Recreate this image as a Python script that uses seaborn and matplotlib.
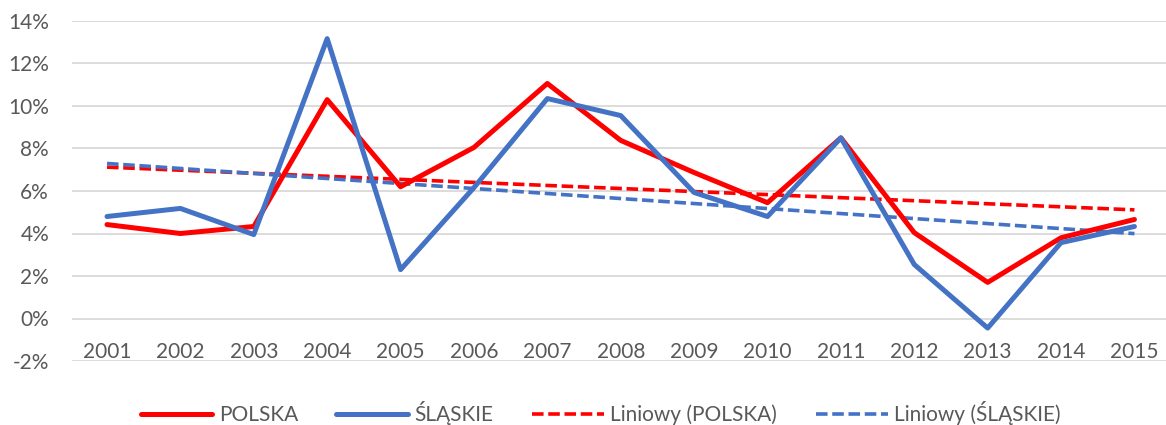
import numpy as np
import pandas as pd
import matplotlib
matplotlib.use("Agg")
import matplotlib.pyplot as plt
import seaborn as sns
from matplotlib.lines import Line2D
from matplotlib.ticker import FuncFormatter

years = [str(y) for y in range(2001, 2016)]
polska = [4.42, 4.0, 4.33, 10.3, 6.2, 8.05, 11.06, 8.38, 6.87, 5.45, 8.5, 4.04, 1.7, 3.8, 4.66]
slaskie = [4.8, 5.18, 3.95, 13.17, 2.3, 6.16, 10.35, 9.55, 5.93, 4.8, 8.5, 2.54, -0.45, 3.57, 4.33]
series_names = ["POLSKA", "ŚLĄSKIE"]
trend_names = ["Liniowy (POLSKA)", "Liniowy (ŚLĄSKIE)"]
colors = {"POLSKA": "#FF0000", "ŚLĄSKIE": "#4472C4"}

sns.set_theme(style="white")
plt.rcParams['font.family'] = ['Lato', 'DejaVu Sans']

idx = np.arange(len(years))
df = pd.DataFrame({
    "idx": np.concatenate([idx, idx]),
    "value": polska + slaskie,
    "series": ["POLSKA"] * len(years) + ["ŚLĄSKIE"] * len(years),
})

W, H = 1166, 425
fig = plt.figure(figsize=(W / 100, H / 100), dpi=100)
ax = fig.add_axes([72 / W, 1 - 361 / H, (1166 - 72) / W, (361 - 21) / H])

grid_c = "#D9D9D9"
text_c = "#595959"

sns.lineplot(data=df, x="idx", y="value", hue="series", palette=colors,
             linewidth=3.6, ax=ax, legend=False, zorder=3)
dash = (3.2, 1.3)
for name, vals in zip(series_names, [polska, slaskie]):
    sns.regplot(x=idx, y=np.array(vals), ax=ax, scatter=False, ci=None,
                truncate=True,
                line_kws=dict(color=colors[name], linewidth=2.6,
                              linestyle=(0, dash), zorder=2))

ax.set_xlim(-0.477, 14.43)
ax.set_ylim(-2, 14)
ax.set_yticks(np.arange(-2, 15, 2))
ax.yaxis.set_major_formatter(FuncFormatter(lambda v, p: f"{v:.0f}%"))
ax.set_xticks(idx)
ax.set_xticklabels(years)
ax.set_xlabel("")
ax.set_ylabel("")
ax.grid(axis="y", color=grid_c, linewidth=1.3, zorder=0)
ax.grid(axis="x", visible=False)
for s in ax.spines.values():
    s.set_visible(False)
ax.tick_params(axis="x", length=0, pad=-13.8, labelsize=15, labelcolor=text_c)
ax.tick_params(axis="y", length=0, pad=16.5, labelsize=15, labelcolor=text_c)
for lab in ax.get_xticklabels():
    lab.set_zorder(5)

handles = [
    Line2D([0], [0], color=colors["POLSKA"], linewidth=3.6),
    Line2D([0], [0], color=colors["ŚLĄSKIE"], linewidth=3.6),
    Line2D([0], [0], color=colors["POLSKA"], linewidth=2.6, linestyle=(0, dash)),
    Line2D([0], [0], color=colors["ŚLĄSKIE"], linewidth=2.6, linestyle=(0, dash)),
]
labels = series_names + trend_names
leg = fig.legend(handles, labels, loc="center", bbox_to_anchor=(0.515, 1 - 413 / H),
                 ncol=4, frameon=False, fontsize=15, handlelength=3.45,
                 handletextpad=0.3, columnspacing=1.85)
for t in leg.get_texts():
    t.set_color(text_c)

fig.savefig("out.png", dpi=100)
